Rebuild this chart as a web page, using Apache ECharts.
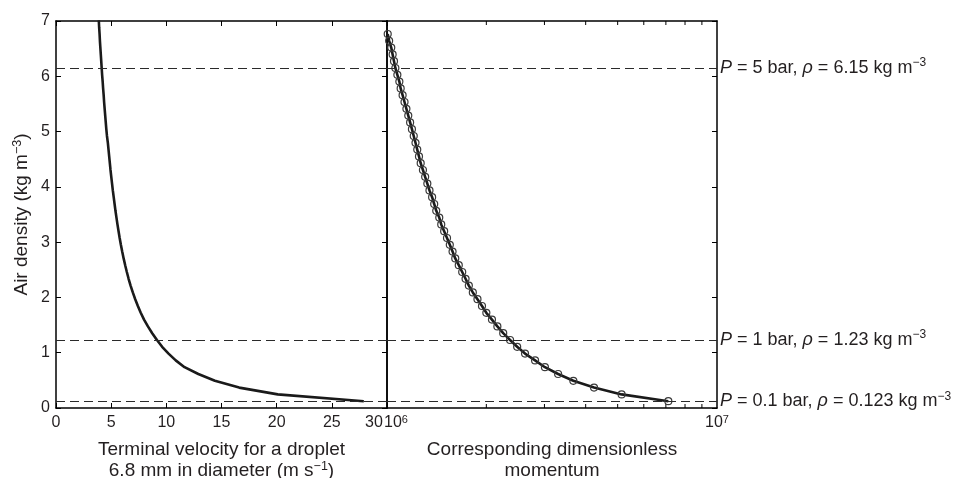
<!DOCTYPE html>
<html>
<head>
<meta charset="utf-8">
<script src="https://cdn.jsdelivr.net/npm/echarts@6/dist/echarts.min.js"></script>
<style>
html,body{margin:0;padding:0;background:#fff;}
#chart{width:953px;height:478px;}
</style>
</head>
<body>
<div id="chart"></div>
<script>
// ---- Data ----
// Left panel: terminal velocity (m/s) vs air density (kg m^-3)
const densityLeft = [0.123,0.246,0.369,0.492,0.615,0.738,0.861,0.984,1.107,1.23,
  1.353,1.476,1.599,1.722,1.845,1.968,2.091,2.214,2.337,2.46,
  2.583,2.706,2.829,2.952,3.075,3.198,3.321,3.444,3.567,3.69,
  3.813,3.936,4.059,4.182,4.305,4.428,4.551,4.674,4.797,4.92,
  5.043,5.166,5.289,5.412,5.535,5.658,5.781,5.904,6.027,6.15,
  6.273,6.396,6.519,6.642,6.765,6.888,7.011];
const velocity = [27.9,20.1,16.6,14.4,12.9,11.65,10.85,10.2,9.62,9.15,
  8.72,8.33,7.98,7.68,7.42,7.18,6.96,6.76,6.58,6.42,
  6.27,6.13,6.0,5.88,5.77,5.67,5.57,5.48,5.39,5.31,
  5.23,5.15,5.08,5.01,4.94,4.88,4.82,4.76,4.70,4.62,
  4.56,4.51,4.46,4.41,4.36,4.32,4.27,4.23,4.18,4.14,
  4.10,4.06,4.02,3.98,3.95,3.91,3.88];
// Right panel: dimensionless momentum vs air density
const densityRight = [0.123,0.246,0.369,0.492,0.615,0.738,0.861,0.984,1.107,1.23,
  1.353,1.476,1.599,1.722,1.845,1.968,2.091,2.214,2.337,2.46,
  2.583,2.706,2.829,2.952,3.075,3.198,3.321,3.444,3.567,3.69,
  3.813,3.936,4.059,4.182,4.305,4.428,4.551,4.674,4.797,4.92,
  5.043,5.166,5.289,5.412,5.535,5.658,5.781,5.904,6.027,6.15,
  6.273,6.396,6.519,6.642,6.765];
const momentum = [7.12e6,5.14e6,4.24e6,3.67e6,3.30e6,3.01e6,2.81e6,2.62e6,2.48e6,2.36e6,
  2.25e6,2.16e6,2.08e6,2.00e6,1.94e6,1.88e6,1.82e6,1.77e6,1.73e6,1.69e6,
  1.65e6,1.61e6,1.58e6,1.55e6,1.52e6,1.49e6,1.46e6,1.44e6,1.41e6,1.39e6,
  1.37e6,1.345e6,1.325e6,1.305e6,1.285e6,1.265e6,1.25e6,1.235e6,1.22e6,1.205e6,
  1.19e6,1.175e6,1.16e6,1.145e6,1.13e6,1.115e6,1.10e6,1.09e6,1.075e6,1.06e6,
  1.05e6,1.04e6,1.03e6,1.015e6,1.005e6];
// Reference pressure levels
const refDensity = [6.15, 1.23, 0.123];
const refPressure = ['5', '1', '0.1'];
const refDensityText = ['6.15', '1.23', '0.123'];
// Axis ticks
const yTicks = {min: 0, max: 7, interval: 1};
const vTicks = {min: 0, max: 30, interval: 5};
const momentumRange = [1e6, 1e7];
const momentumMinorTicks = [2e6,3e6,4e6,5e6,6e6,7e6,8e6,9e6];

// ---- Chart ----
const FONT = '"Liberation Sans", Arial, Helvetica, sans-serif';
const INK = '#231f20';
const richBase = {
  sup: {fontSize: 12, fontFamily: FONT, color: INK, verticalAlign: 'top', lineHeight: 12},
  it: {fontSize: 18, fontFamily: FONT, color: INK, fontStyle: 'italic', lineHeight: 22},
  n: {fontSize: 18, fontFamily: FONT, color: INK, lineHeight: 22}
};
const tickRich = {
  sup: {fontSize: 11, fontFamily: FONT, color: INK, verticalAlign: 'top', lineHeight: 10},
  n: {fontSize: 16, fontFamily: FONT, color: INK, lineHeight: 18},
  first: {fontSize: 16, fontFamily: FONT, color: INK, lineHeight: 18, padding: [0, 0, 0, 18]},
  last: {fontSize: 16, fontFamily: FONT, color: INK, lineHeight: 18, padding: [0, 26, 0, 0]}
};

const GRID_TOP = 21, GRID_BOTTOM = 70;
const axisLineStyle = {color: '#000', width: 1.5};

function baseY(gridIndex, position, opts) {
  return Object.assign({
    type: 'value', gridIndex: gridIndex, position: position,
    min: yTicks.min, max: yTicks.max, interval: yTicks.interval,
    axisLine: {show: true, onZero: false, lineStyle: axisLineStyle},
    axisTick: {show: true, inside: true, length: 5, lineStyle: {color: '#000', width: 1}},
    axisLabel: {show: false},
    splitLine: {show: false}
  }, opts || {});
}

const xAxes = [
  { // left bottom
    type: 'value', gridIndex: 0, position: 'bottom',
    min: vTicks.min, max: vTicks.max, interval: vTicks.interval,
    axisLine: {show: true, onZero: false, lineStyle: axisLineStyle},
    axisTick: {show: true, inside: true, length: 5, lineStyle: {color: '#000', width: 1}},
    axisLabel: {show: true, margin: 6, fontSize: 16, fontFamily: FONT, color: INK,
      formatter: function (v) { return v === vTicks.max ? '{last|' + v + '}' : '{n|' + v + '}'; },
      rich: tickRich},
    splitLine: {show: false},
    name: 'Terminal velocity for a droplet\n6.8 mm in diameter (m s{sup|\u22121})',
    nameLocation: 'middle', nameGap: 31,
    nameTextStyle: {fontSize: 19, fontFamily: FONT, color: INK, lineHeight: 21, rich: {
      sup: {fontSize: 12.5, fontFamily: FONT, color: INK, verticalAlign: 'top', lineHeight: 12}}}
  },
  { // left top
    type: 'value', gridIndex: 0, position: 'top',
    min: vTicks.min, max: vTicks.max, interval: vTicks.interval,
    axisLine: {show: true, onZero: false, lineStyle: axisLineStyle},
    axisTick: {show: true, inside: true, length: 5, lineStyle: {color: '#000', width: 1}},
    axisLabel: {show: false}, splitLine: {show: false}
  },
  { // right bottom (log)
    type: 'log', logBase: 10, gridIndex: 1, position: 'bottom',
    min: momentumRange[0], max: momentumRange[1], splitNumber: 1,
    axisLine: {show: true, onZero: false, lineStyle: axisLineStyle},
    axisTick: {show: false},
    axisLabel: {show: true, margin: 6,
      formatter: function (v) {
        const e = Math.round(Math.log10(v));
        return (v <= momentumRange[0] ? '{first|10}' : '{n|10}') + '{sup|' + e + '}';
      },
      rich: tickRich},
    splitLine: {show: false},
    name: 'Corresponding dimensionless\nmomentum',
    nameLocation: 'middle', nameGap: 31,
    nameTextStyle: {fontSize: 19, fontFamily: FONT, color: INK, lineHeight: 21}
  },
  { // right top (log)
    type: 'log', logBase: 10, gridIndex: 1, position: 'top',
    min: momentumRange[0], max: momentumRange[1], splitNumber: 1,
    axisLine: {show: true, onZero: false, lineStyle: axisLineStyle},
    axisTick: {show: false}, axisLabel: {show: false}, splitLine: {show: false}
  }
];

const yAxes = [
  baseY(0, 'left', {
    axisLabel: {show: true, margin: 6, fontSize: 16, fontFamily: FONT, color: INK},
    name: 'Air density (kg m{sup|\u22123})', nameLocation: 'middle', nameGap: 23, nameRotate: 90,
    nameTextStyle: {fontSize: 19, fontFamily: FONT, color: INK, lineHeight: 22, rich: {
      sup: {fontSize: 12.5, fontFamily: FONT, color: INK, verticalAlign: 'top', lineHeight: 12}}}
  }),
  baseY(0, 'right'),
  baseY(1, 'left', {axisTick: {show: false}}),
  baseY(1, 'right')
];

function refLines(withLabel) {
  return {
    silent: true, symbol: ['none', 'none'], animation: false,
    lineStyle: {color: '#2a2a2a', width: 1.1, type: [9, 5]},
    label: {show: false},
    emphasis: {disabled: true},
    data: refDensity.map(function (d, i) {
      const item = {yAxis: d};
      if (withLabel) {
        item.label = {
          show: true, position: 'end', distance: 3,
          formatter: '{it|P}{n| = ' + refPressure[i] + ' bar, }{it|\u03c1}{n| = ' + refDensityText[i] + ' kg m}{sup|\u22123}',
          rich: richBase
        };
      }
      return item;
    })
  };
}

const option = {
  animation: false,
  backgroundColor: '#fff',
  grid: [
    {left: 56, top: GRID_TOP, width: 331, bottom: GRID_BOTTOM, containLabel: false, outerBoundsMode: 'none'},
    {left: 387, top: GRID_TOP, width: 330, bottom: GRID_BOTTOM, containLabel: false, outerBoundsMode: 'none'}
  ],
  xAxis: xAxes,
  yAxis: yAxes,
  series: [
    {
      type: 'line', xAxisIndex: 0, yAxisIndex: 0,
      data: velocity.map(function (v, i) { return [v, densityLeft[i]]; }),
      showSymbol: false, symbol: 'none', clip: true, smooth: false,
      lineStyle: {color: '#1a1a1a', width: 2.6},
      markLine: refLines(false)
    },
    {
      type: 'line', xAxisIndex: 2, yAxisIndex: 2,
      data: momentum.map(function (m, i) { return [m, densityRight[i]]; }),
      symbol: 'circle', symbolSize: 7, showSymbol: true, clip: true,
      lineStyle: {color: '#1a1a1a', width: 2.6},
      itemStyle: {color: 'rgba(255,255,255,0)', borderColor: '#3a3a3a', borderWidth: 1.2},
      z: 3,
      markLine: refLines(true)
    },
    {
      type: 'custom', xAxisIndex: 2, yAxisIndex: 2, silent: true, z: 1,
      data: momentumMinorTicks.map(function (v) { return [v, 0]; }),
      renderItem: function (params, api) {
        const v = api.value(0);
        const pb = api.coord([v, yTicks.min]);
        const pt = api.coord([v, yTicks.max]);
        return {
          type: 'group',
          children: [
            {type: 'line', shape: {x1: pb[0], y1: pb[1], x2: pb[0], y2: pb[1] - 4}, style: {stroke: '#000', lineWidth: 1}},
            {type: 'line', shape: {x1: pt[0], y1: pt[1], x2: pt[0], y2: pt[1] + 4}, style: {stroke: '#000', lineWidth: 1}}
          ]
        };
      }
    }
  ]
};

const chart = echarts.init(document.getElementById('chart'), null, {renderer: 'canvas'});
chart.setOption(option);
</script>
</body>
</html>
